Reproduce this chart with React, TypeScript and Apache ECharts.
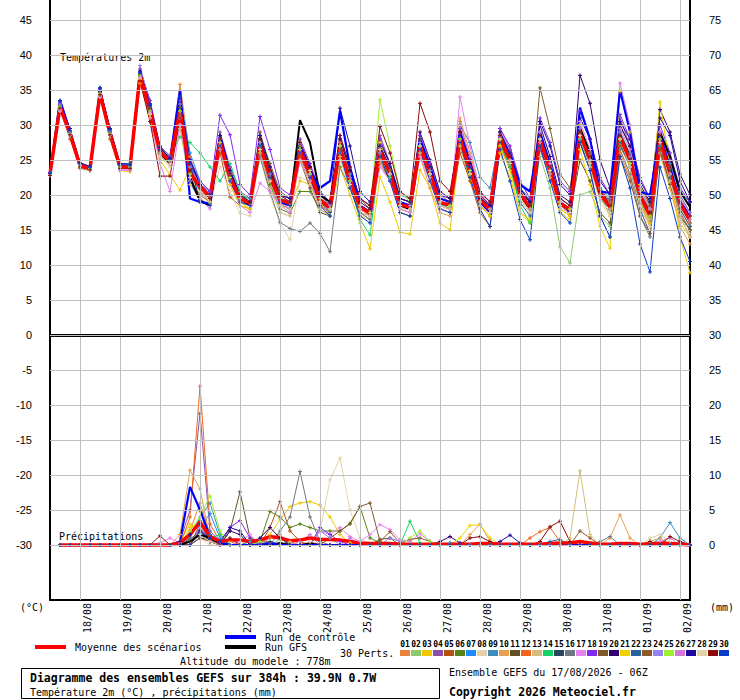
import React, { useEffect, useRef } from "react";
import * as echarts from "echarts";

// ---------- axes / ticks ----------
const dateLabels = ["18/08","19/08","20/08","21/08","22/08","23/08","24/08","25/08","26/08","27/08","28/08","29/08","30/08","31/08","01/09","02/09"];
const dateTicks = [3,7,11,15,19,23,27,31,35,39,43,47,51,55,59,63]; // 00Z steps (6h index from 17/08 06Z)
const leftTicks = [-30,-25,-20,-15,-10,-5,0,5,10,15,20,25,30,35,40,45];
const rightTicks = [0,5,10,15,20,25,30,35,40,45,50,55,60,65,70,75];

const pertNames = ["01","02","03","04","05","06","07","08","09","10","11","12","13","14","15","16","17","18","19","20","21","22","23","24","25","26","27","28","29","30"];
const pertColors = ["#E8853A","#8CC870","#F0C800","#8C50A8","#B45010","#5A8214","#1E8CFF","#E6D2AA","#3C8CBE","#E6A050","#645020","#F06420","#D2BE78","#14D264","#284660","#6E7882","#E682F0","#8228F0","#7D5A28","#32006E","#F0D200","#2864A0","#8C5A28","#9682F0","#A0F032","#D278D2","#1E0AA0","#E1D2AA","#8C0A0A","#0A3CC8"];

// ---------- temperatures 2m (°C), every 6h from 17/08 06Z ----------
const meanT = [23.0, 32.6,28.8,24.2,23.8, 34.5,28.8,24.0,24.0, 37.1,32.1,26.2,24.8, 32.1,23.1,21.2,19.8, 27.6,22.5,19.5,18.8, 27.1,22.6,19.3,18.8, 26.4,23.1,19.3,18.1, 26.7,22.1,18.3,17.4, 26.2,23.1,18.6,18.3, 27.1,23.1,18.9,18.6, 28.1,23.6,19.3,17.9, 28.1,25.0,20.2,18.3, 27.9,23.6,18.8,17.9, 28.8,25.0,20.2,18.3, 28.3,25.0,19.8,17.1, 27.9,23.1,18.8,16.4];
const ctrlT = [22.9, 33.6,29.0,24.3,23.8, 34.9,29.0,24.0,24.0, 37.3,32.5,26.2,25.0, 35.0,19.5,19.0,18.8, 28.5,23.0,19.5,19.0, 27.5,22.5,19.0,18.5, 27.0,23.5,21.0,22.0, 32.0,24.0,18.5,17.5, 26.0,23.5,19.0,18.5, 28.0,24.0,19.5,19.0, 29.0,24.5,19.0,17.5, 28.0,26.0,21.5,20.5, 29.0,24.5,19.0,17.5, 32.5,28.0,20.5,20.3, 35.0,29.0,20.5,20.0, 28.5,24.0,19.0,17.0];
const gfsT = [23.0, 33.0,29.0,24.3,23.8, 34.8,28.8,24.0,24.0, 37.0,32.0,26.0,24.5, 32.5,22.5,19.2,18.5, 28.0,22.5,19.5,18.5, 27.5,23.0,19.5,18.5, 30.7,27.5,20.0,19.0, 27.0,22.0,18.5,17.5, 26.5,23.0,18.5,18.0, 27.0,23.5,19.0,18.5, 28.5,24.0,19.5,18.0, 28.0,25.0,20.0,18.0, 28.5,24.0,19.0,18.0, 29.5,26.0,20.5,18.5, 28.5,25.5,20.0,17.5, 29.0,25.5,20.5,18.3];

const p01T = [23.2, 33.0,29.2,24.6,24.0, 35.0,29.5,24.4,24.2, 37.5,33.0,26.8,25.0, 35.8,25.5,21.0,19.5, 28.5,23.0,19.0,18.5, 26.0,21.5,18.8,18.0, 25.5,22.0,18.5,17.5, 27.5,23.0,18.5,17.0, 24.5,22.0,19.0,18.5, 28.0,24.5,20.0,19.0, 30.5,25.0,19.5,17.5, 26.5,24.0,20.5,18.5, 28.5,24.5,19.0,17.0, 30.0,26.0,21.0,18.5, 26.0,22.5,18.5,16.0, 29.0,24.0,19.5,17.0];
const p02T = [22.8, 32.0,28.5,24.0,23.5, 34.2,28.5,23.8,23.8, 36.8,31.5,25.8,24.5, 31.0,22.5,20.5,19.0, 27.0,22.0,19.5,18.5, 27.5,23.0,19.5,19.0, 26.0,22.5,19.5,18.5, 26.0,21.5,18.0,17.5, 27.0,23.5,19.0,18.0, 26.5,22.5,18.5,18.0, 27.5,23.0,19.0,17.5, 27.0,24.0,19.5,17.5, 25.5,21.0,12.6,10.3, 20.0,20.5,17.0,15.5, 27.0,24.5,19.0,16.5, 28.5,24.0,19.0,16.0];
const p03T = [23.0, 32.5,28.5,24.0,23.5, 34.0,28.5,23.5,23.3, 36.0,31.0,25.0,22.9, 20.7,24.0,20.5,19.5, 26.5,22.0,19.0,18.0, 27.5,23.5,19.5,18.5, 22.0,21.5,19.0,17.0, 24.0,20.0,16.0,12.3, 22.6,19.0,14.7,14.4, 23.6,21.0,16.0,15.0, 27.0,22.0,18.5,17.0, 26.0,22.5,17.5,16.0, 27.0,22.5,17.5,16.5, 30.0,25.5,20.0,17.0, 27.5,24.0,19.0,16.0, 26.0,21.0,16.0,14.0];
const p04T = [23.1, 33.2,29.0,24.5,24.0, 35.2,29.0,24.2,24.2, 38.0,33.5,26.5,25.0, 33.0,24.0,21.5,20.5, 29.0,24.0,20.5,19.5, 28.5,23.5,20.0,19.5, 27.0,23.5,20.0,18.5, 27.0,22.5,18.5,17.5, 28.5,24.5,19.5,19.0, 27.5,23.0,19.0,18.5, 29.0,24.5,20.0,18.0, 29.5,26.5,21.0,19.0, 26.5,22.5,18.5,18.0, 29.0,25.5,20.5,19.0, 31.0,27.0,21.5,18.5, 29.0,25.0,20.0,17.5];
const p05T = [22.8, 32.2,28.0,23.8,23.5, 34.0,28.0,23.5,23.5, 36.5,30.5,25.5,24.5, 30.0,22.0,20.0,19.0, 26.0,19.7,18.5,18.0, 26.5,22.0,19.0,18.5, 25.5,22.5,18.5,17.5, 28.0,23.5,19.5,18.0, 26.0,23.0,18.0,17.5, 26.5,22.0,18.0,17.5, 26.0,22.0,17.5,15.5, 27.0,24.0,19.5,17.5, 28.0,24.0,19.0,18.0, 28.5,24.0,19.5,18.0, 29.0,25.5,20.0,17.0, 26.5,22.0,17.5,15.0];
const p06T = [23.0, 32.8,29.0,24.3,23.8, 34.5,29.2,24.0,24.0, 37.0,32.5,26.5,25.0, 32.5,23.5,21.5,20.0, 27.0,22.5,19.5,19.0, 26.5,21.5,18.0,17.4, 20.5,20.5,18.0,17.0, 25.5,21.0,17.5,16.5, 26.5,23.5,18.5,18.0, 27.0,23.5,19.0,18.0, 28.0,23.5,19.0,18.0, 29.0,25.5,20.5,18.5, 28.5,24.0,19.0,18.0, 27.5,24.5,20.0,18.5, 27.5,24.5,19.0,16.5, 28.0,23.0,18.5,16.5];
const p07T = [23.2, 33.0,29.0,24.5,24.0, 35.0,29.5,24.5,24.5, 37.5,33.0,27.0,25.5, 34.0,26.0,22.0,20.5, 28.0,23.0,20.0,19.0, 27.5,23.0,19.5,19.0, 26.0,22.5,19.0,18.0, 26.5,22.0,18.5,17.0, 25.5,22.5,18.5,18.5, 27.5,23.5,19.5,19.0, 28.5,24.0,20.0,18.5, 28.0,25.5,21.0,19.0, 29.0,24.5,19.5,18.5, 27.5,24.0,19.5,17.5, 28.0,25.5,20.5,17.5, 27.0,22.5,18.5,16.0];
const p08T = [22.9, 32.0,28.5,24.0,23.5, 34.0,28.5,23.5,23.5, 36.5,31.5,25.5,24.0, 30.0,22.0,19.5,18.5, 24.0,20.5,17.4,17.0, 25.5,20.0,16.0,13.6, 22.5,22.0,18.0,17.0, 25.0,21.0,17.5,16.5, 25.5,22.0,18.0,18.0, 26.0,22.0,18.0,18.0, 27.5,23.0,19.0,17.5, 27.5,24.5,19.5,18.0, 27.0,22.5,18.0,17.5, 28.0,24.0,19.0,17.0, 26.5,23.0,18.0,15.5, 26.0,21.5,16.5,14.5];
const p09T = [23.0, 32.8,29.0,24.4,24.0, 34.8,29.0,24.2,24.0, 37.2,32.5,26.5,25.0, 33.5,25.0,21.5,20.0, 28.0,23.5,20.0,19.5, 28.0,23.5,20.0,19.5, 27.0,24.0,20.5,19.0, 27.0,23.0,19.5,18.5, 27.5,24.5,20.0,19.5, 28.0,24.0,20.0,19.5, 30.0,27.5,22.5,21.0, 28.5,25.5,21.0,19.5, 28.0,24.0,19.5,18.5, 29.5,26.0,21.0,19.5, 29.0,26.0,21.0,19.0, 28.5,24.5,20.5,19.0];
const p10T = [23.1, 32.5,28.8,24.2,23.8, 34.3,28.8,24.0,24.0, 36.8,31.8,26.0,24.5, 31.5,22.5,20.5,19.0, 27.5,22.0,19.0,18.5, 27.0,22.5,19.0,18.5, 26.5,23.5,19.0,18.0, 26.0,21.5,17.5,17.0, 27.0,24.0,19.5,19.0, 25.5,21.0,17.5,17.0, 31.0,26.0,20.5,18.0, 28.0,24.5,20.0,18.0, 27.0,22.5,18.0,17.0, 29.0,25.5,20.5,18.5, 27.0,24.0,18.5,15.5, 26.0,21.0,15.5,13.0];
const p11T = [23.0, 32.3,28.5,24.0,23.6, 34.3,28.5,23.8,23.8, 36.5,31.5,25.8,24.5, 31.0,23.0,21.0,19.5, 27.0,22.5,19.5,18.5, 26.0,22.0,18.5,18.0, 25.0,21.0,17.5,17.0, 26.0,21.5,18.0,17.5, 25.0,22.0,17.5,17.0, 26.0,22.5,18.5,18.0, 27.0,22.5,18.5,17.0, 28.5,25.5,20.5,18.5, 27.5,23.0,18.5,17.5, 25.0,22.0,17.5,16.0, 27.0,24.5,19.0,16.5, 27.5,22.5,18.0,15.5];
const p12T = [23.0, 32.6,28.8,24.2,23.8, 34.6,29.0,24.0,24.0, 37.0,32.0,26.0,24.8, 32.0,23.0,21.0,19.8, 27.5,22.0,19.0,18.5, 27.0,22.0,19.0,18.5, 26.0,22.0,18.5,17.5, 27.0,22.0,18.5,17.5, 26.5,23.5,19.0,18.5, 27.0,23.0,19.0,18.5, 28.0,23.5,19.5,18.0, 28.5,25.0,20.0,18.0, 28.0,24.0,19.0,18.0, 28.5,25.0,20.0,18.0, 28.5,25.5,20.5,17.5, 27.5,23.0,18.5,16.0];
const p13T = [22.9, 32.4,28.6,24.1,23.7, 34.4,28.6,23.9,23.9, 36.7,31.5,25.5,24.5, 29.5,21.5,19.5,18.5, 26.5,21.5,18.5,18.0, 26.0,21.0,17.5,17.0, 25.0,21.5,18.0,17.0, 25.5,21.0,17.0,16.5, 25.0,22.5,18.0,17.5, 26.0,22.0,18.0,17.5, 27.0,22.5,18.5,17.0, 27.5,24.5,19.5,17.5, 27.5,23.0,18.5,17.5, 28.0,24.5,19.5,18.0, 27.5,24.5,19.0,16.5, 27.0,22.5,18.0,15.5];
const p14T = [23.0, 32.0,28.5,24.5,24.0, 34.0,29.0,24.5,24.5, 36.5,32.0,27.0,25.5, 28.3,27.5,26.0,24.0, 22.0,24.5,20.5,19.0, 26.5,22.5,19.5,19.0, 27.0,23.0,19.0,18.0, 27.0,21.5,16.5,14.3, 25.5,22.5,18.5,18.0, 26.5,22.5,18.5,18.5, 27.5,23.0,19.0,17.5, 27.5,24.0,18.5,16.0, 28.0,23.5,18.5,17.5, 28.0,24.5,19.5,18.0, 28.5,25.0,20.0,17.5, 27.5,23.5,19.0,16.5];
const p15T = [23.0, 32.7,28.9,24.2,23.8, 34.6,28.9,24.1,24.1, 37.3,32.3,26.3,24.9, 32.5,23.5,21.0,19.5, 27.0,22.5,19.0,18.5, 27.0,22.5,19.0,18.5, 26.5,23.5,19.5,18.0, 26.0,21.5,18.0,17.0, 26.0,23.0,18.5,18.0, 27.5,23.5,19.0,18.5, 28.5,24.0,19.5,18.0, 27.5,24.5,20.0,18.0, 27.0,23.0,18.5,17.5, 29.0,25.0,20.0,18.0, 29.0,25.5,20.0,17.5, 28.0,23.5,19.0,16.5];
const p16T = [23.0, 32.5,28.8,24.3,23.9, 34.5,28.8,24.1,24.1, 37.0,32.0,26.0,24.5, 31.5,23.0,21.0,19.5, 27.0,22.0,19.0,18.5, 25.5,20.5,16.1,15.2, 14.8,16.0,14.5,11.9, 24.0,21.0,17.5,16.5, 26.0,23.0,18.5,18.0, 27.0,23.0,19.0,18.5, 28.0,23.5,19.0,17.5, 28.5,25.5,20.5,18.5, 27.5,23.5,18.5,17.5, 27.5,23.5,17.0,14.0, 26.5,23.0,17.0,14.0, 26.0,22.0,17.0,15.0];
const p17T = [22.9, 32.0,28.5,24.0,23.5, 34.0,28.5,23.5,23.5, 36.5,31.0,24.5,20.5, 30.0,22.0,19.5,18.0, 26.5,21.5,18.5,17.5, 21.7,20.5,18.5,17.5, 25.0,22.0,18.5,17.5, 26.0,21.5,18.0,17.0, 24.0,22.0,18.0,17.5, 25.5,22.0,18.0,17.5, 34.0,27.0,20.5,18.5, 29.5,26.0,21.0,19.0, 29.0,24.5,19.5,18.5, 30.5,26.5,21.0,19.0, 36.0,30.0,21.5,18.0, 29.0,24.0,19.0,17.0];
const p18T = [23.2, 33.2,29.2,24.5,24.0, 35.0,29.5,24.5,24.3, 37.8,33.5,27.0,25.5, 33.5,25.0,22.0,20.5, 31.4,28.6,21.5,20.0, 31.2,26.5,21.0,20.0, 28.0,24.5,20.5,19.0, 28.5,24.0,19.5,18.5, 28.0,24.5,19.5,19.0, 28.5,24.5,20.0,19.5, 29.5,25.0,20.5,19.0, 29.5,27.0,22.0,19.5, 31.0,27.5,22.0,20.5, 32.0,28.0,22.5,20.0, 31.5,28.0,22.5,19.5, 30.0,26.0,21.0,19.0];
const p19T = [23.0, 32.8,28.8,24.3,23.9, 34.8,29.3,24.2,24.1, 37.2,32.5,26.5,25.0, 32.5,24.0,21.5,20.0, 28.5,23.5,20.0,19.0, 29.0,24.0,20.0,19.0, 27.5,24.0,20.0,18.5, 27.0,22.5,18.5,17.5, 27.0,23.5,19.0,18.5, 28.0,24.0,19.5,19.0, 28.5,24.0,19.5,18.0, 29.0,26.0,21.0,19.0, 35.3,29.5,23.0,21.0, 29.5,26.0,21.0,19.0, 30.0,27.0,21.5,18.5, 26.5,21.5,17.0,15.0];
const p20T = [23.1, 33.0,29.0,24.4,24.0, 34.8,29.2,24.2,24.2, 37.5,33.0,26.8,25.2, 33.0,24.5,21.5,20.0, 28.5,23.5,20.0,19.0, 28.0,23.0,19.5,19.0, 27.5,24.0,20.0,19.0, 28.0,23.5,19.0,18.0, 27.5,24.5,19.5,19.0, 29.0,25.0,20.5,19.5, 29.0,24.5,20.0,18.5, 28.5,25.5,20.5,19.0, 30.0,25.5,20.0,19.0, 37.1,33.1,25.0,21.0, 30.0,27.0,21.5,19.0, 32.2,29.0,23.0,20.0];
const p21T = [23.0, 32.5,28.5,24.0,23.6, 34.5,28.5,23.8,23.8, 36.5,31.5,25.5,24.5, 31.0,22.5,20.5,19.0, 27.0,21.5,18.5,18.0, 27.5,22.5,19.0,18.5, 27.5,23.5,19.0,17.5, 27.0,22.0,18.0,17.0, 27.5,23.5,18.5,18.0, 28.0,23.5,19.0,18.5, 27.5,23.0,18.5,17.0, 27.0,23.5,17.5,16.5, 27.5,23.0,18.0,17.0, 26.5,21.5,15.5,12.4, 34.8,29.0,21.5,18.0, 33.3,24.0,14.0,8.9];
const p22T = [23.0, 32.6,28.8,24.2,23.8, 34.5,28.8,24.0,24.0, 37.0,32.0,26.0,24.8, 32.0,22.0,19.0,18.8, 27.0,22.0,19.0,18.5, 27.0,22.5,19.0,18.5, 26.0,22.5,19.0,17.5, 26.5,22.0,18.0,17.0, 26.0,23.0,18.5,18.0, 27.0,23.0,19.0,18.5, 28.0,23.5,19.0,17.5, 28.0,24.5,19.0,17.0, 28.0,23.5,18.5,17.5, 29.0,25.0,20.0,18.0, 27.5,24.0,18.0,14.5, 27.0,22.5,18.0,15.5];
const p23T = [23.0, 32.5,28.7,24.1,23.7, 34.4,28.7,23.9,23.9, 37.0,32.0,26.0,24.5, 31.5,23.0,20.5,19.0, 27.0,22.5,19.5,18.5, 28.5,24.5,20.5,19.5, 27.0,23.5,19.5,18.5, 26.5,22.0,18.0,17.0, 26.5,23.5,19.0,18.5, 27.5,23.5,19.0,18.5, 28.0,23.5,19.0,17.5, 28.0,25.0,20.0,18.0, 28.0,23.5,18.5,17.5, 29.0,25.0,20.0,18.0, 25.5,22.0,17.0,14.5, 26.5,22.0,17.0,14.0];
const p24T = [23.1, 33.0,29.0,24.4,24.0, 35.2,29.2,24.3,24.2, 38.5,33.0,26.5,25.0, 33.0,24.0,21.5,20.0, 28.0,23.0,20.0,19.0, 27.5,23.0,19.5,19.0, 26.5,23.0,19.5,18.5, 27.0,22.5,18.5,17.5, 26.5,23.0,19.0,18.5, 27.5,23.5,19.0,18.5, 28.5,24.0,19.5,18.0, 28.5,25.5,20.5,18.5, 28.5,24.0,19.5,18.5, 29.5,25.5,20.5,18.5, 29.0,25.5,20.5,18.0, 28.5,24.0,19.5,17.5];
const p25T = [23.0, 32.6,28.8,24.2,23.8, 34.5,28.8,24.0,24.0, 37.0,32.0,26.0,24.8, 32.0,23.0,21.0,19.5, 27.5,22.5,19.5,18.5, 27.0,22.5,19.0,18.5, 26.5,23.0,19.5,18.0, 27.0,22.0,18.5,17.5, 33.6,27.0,20.5,19.0, 27.0,23.0,19.0,18.5, 28.0,23.5,19.5,18.0, 28.0,25.0,20.0,18.0, 28.0,23.5,19.0,18.0, 28.5,25.0,20.0,18.0, 28.0,24.5,19.5,17.0, 28.0,23.0,18.5,16.5];
const p26T = [23.0, 32.3,28.5,24.0,23.6, 34.2,28.5,23.7,23.7, 36.8,31.8,25.8,24.5, 31.0,22.5,20.5,19.5, 26.5,22.0,19.0,18.5, 26.5,22.0,19.0,18.0, 26.0,22.5,19.0,18.0, 26.0,21.5,18.0,17.0, 26.0,23.0,18.5,18.0, 26.5,22.5,18.5,18.0, 30.0,25.5,20.0,18.0, 28.5,25.0,20.0,18.0, 27.5,23.0,18.5,17.5, 28.5,25.0,20.0,18.0, 29.5,26.5,21.0,18.0, 27.5,23.0,18.5,16.5];
const p27T = [23.1, 33.5,29.5,24.6,24.1, 35.3,29.5,24.5,24.4, 37.6,33.0,26.8,25.2, 34.0,25.0,21.5,20.0, 28.5,23.5,20.0,19.0, 28.5,24.0,20.0,19.5, 27.5,24.0,20.0,19.0, 32.4,27.0,20.5,19.0, 27.0,24.0,19.5,19.0, 28.0,24.0,19.5,19.0, 28.5,24.0,19.5,18.5, 29.0,26.0,21.0,19.0, 30.5,27.0,21.5,20.0, 31.0,28.0,22.0,20.0, 30.5,28.0,22.0,19.5, 31.0,28.5,22.0,19.0];
const p28T = [22.9, 32.3,28.6,24.0,23.6, 34.2,28.6,23.8,23.8, 36.6,31.6,25.6,24.4, 31.0,22.5,20.5,19.0, 27.0,22.0,19.0,18.5, 26.5,22.0,18.5,18.0, 27.5,23.5,19.0,18.0, 26.0,21.5,18.0,17.0, 26.5,23.0,18.5,18.0, 27.0,23.0,18.5,18.0, 27.5,23.0,19.0,17.5, 28.0,24.5,19.5,17.5, 28.0,23.5,18.5,17.5, 28.5,24.5,19.5,17.5, 28.0,24.0,18.5,15.5, 27.5,22.0,17.0,14.0];
const p29T = [22.8, 32.4,28.6,24.0,23.6, 34.3,28.6,23.8,23.8, 36.3,30.5,22.7,22.7, 31.0,23.5,21.0,19.5, 28.0,23.0,20.0,19.0, 28.0,23.5,20.0,19.0, 27.5,24.0,20.0,19.0, 28.5,24.0,19.5,18.5, 29.8,26.0,20.5,19.5, 33.1,29.0,22.0,20.5, 29.0,25.0,20.5,19.0, 28.5,25.5,20.5,18.5, 28.5,24.0,19.5,18.5, 29.0,25.5,20.5,18.5, 28.5,25.0,20.0,17.5, 28.5,24.0,19.0,17.0];
const p30T = [23.1, 33.4,29.2,24.5,24.0, 35.3,29.3,24.3,24.3, 37.5,32.8,26.5,25.0, 34.0,24.5,19.0,18.5, 27.0,22.0,19.0,18.5, 27.0,22.5,19.0,18.5, 26.0,22.5,18.5,17.0, 26.0,21.0,17.0,16.0, 25.5,22.0,17.5,17.0, 26.5,22.0,18.0,17.5, 27.5,22.5,18.0,15.5, 26.5,22.0,16.5,13.6, 27.0,22.0,17.5,16.0, 27.5,23.5,17.0,14.0, 25.5,21.0,13.0,9.0, 24.0,19.5,14.0,10.5];

// ---------- precipitation (mm / 6h), first value is the run start ----------
const meanP = [null, 0,0,0,0, 0,0,0,0, 0,0,0,0, 0.3,1.5,3.3,1.2, 0.5,0.7,0.7,0.5, 0.7,1.2,1.0,0.6, 0.7,1.0,0.8,0.8, 0.7,0.5,0.3,0.2, 0.2,0.2,0.1,0.1, 0.1,0.1,0.1,0.1, 0.1,0.1,0.2,0.2, 0.1,0.1,0.1,0.1, 0.1,0.2,0.3,0.3, 0.5,0.3,0.1,0.1, 0.2,0.2,0.1,0.1, 0.3,0.2,0.1,0];
const ctrlP = [null, 0,0,0,0, 0,0,0,0, 0,0,0,0, 0.5,8.3,5.0,1.2, 0.3,0,0,0, 0,0.3,0,0, 0,0,0,0, 0,0,0,0, 0,0,0,0, 0,0,0,0, 0,0,0,0, 0,0,0,0, 0,0,0,0, 0,0,0,0, 0,0,0,0, 0,0,0,0];
const gfsP = [null, 0,0,0,0, 0,0,0,0, 0,0,0,0, 0,0.5,1.5,1.0, 0.3,0,0,0, 0,0,0.3,0, 0,0.2,0,0, 0,0,0,0, 0,0,0,0, 0,0,0,0, 0,0,0,0, 0,0,0,0, 0,0,0,0, 0,0,0,0, 0,0,0,0, 0,0,0,0];

const p01P = [null, 0,0,0,0, 0,0,0,0, 0,0,0,0, 0,2.0,6.0,1.5, 0,0.5,0,0, 0,1.0,1.5,0, 0,0.5,0,0, 0,0,0,0, 0,0,0,0, 0,0,0,0.3, 0,0,0,0, 0,0,0,0, 0,0,0,0, 0,0,0,0, 0,0,0,0, 0,0,0,0];
const p02P = [null, 0,0,0,0, 0,0,0,0, 0,0,0,0, 0,0,2.5,1.0, 0,0,0,0.5, 0,0,0.8,0.3, 0,0,0,0, 0,0,0,0, 0,0,0,0, 0,0,0,0, 0,0,0,0, 0,0,0,0, 0,0,0,0, 0,0,0,0, 0,0,0,0, 0,0,0,0];
const p03P = [null, 0,0,0,0, 0,0,0,0, 0,0,0,0, 0.5,3.0,2.0,0.5, 0,0,0,0, 0,1.5,3.6,5.5, 6.0,6.2,5.7,4.0, 1.5,0.3,0,0, 0,0,0,0, 0,0,0,0, 0,0,0,0, 0,0,0,0, 0,0,0,0, 0,0,0,0, 0,0,0,0, 0,0,0,0];
const p04P = [null, 0,0,0,0, 0,0,0,0, 0,0,0,0, 0.5,5.0,18.8,2.0, 0.5,0,0,0, 0.8,0.3,0,0, 0,0,0,0, 0,0,0,0, 0,0,0,0, 0,0,0,0, 0,0,0,0, 0,0,0,0, 0,0,0,0, 0,0,0,0, 0,0,0,0, 0,0,0,0];
const p05P = [null, 0,0,0,0, 0,0,0,0, 0,0,0,0, 0,0,3.0,1.0, 0,0,0,0, 0,2.5,6.2,2.0, 0.5,0,0,0, 0,0,0,0, 0,0,0,0, 0,0,0,0, 0,0,0,0, 0,0,0,0, 0,0,0,0, 0,0,0,0, 0,0,0,0, 0,0,0,0];
const p06P = [null, 0,0,0,0, 0,0,0,0, 0,0,0,0, 0,0,1.5,0.5, 0,0,0,0, 0.5,4.8,4.0,2.5, 3.0,2.5,2.0,2.0, 2.0,3.1,5.5,1.0, 0.3,0,0,0, 0,0,0,0, 0,0,0,0, 0,0,0,0, 0,0,0,0, 0,0,0,0, 0,0,0,0, 0,0,0,0];
const p07P = [null, 0,0,0,0, 0,0,0,0, 0,0,0,0, 0,0,2.5,4.5, 1.0,0,0,0, 0.5,0,0,0, 0,0,0,0, 0,0,0,0, 0,0,0,0, 0,0,0,0.3, 0,0,0,0, 0,0,0,0, 0,0,0,0, 0,0,0,0, 0,0,0,0, 0,0,0,0];
const p08P = [null, 0,0,0,0, 0,0,0,0, 0,0,0,0, 0,0,1.0,0, 0,0,0,0, 0,0,0,0, 0,0.5,2.0,9.3, 12.4,5.0,1.0,0, 0,0,0,0, 0,0,0,0, 0,0,0,0, 0,0,0,0, 0,0,0,0, 0,0,0,0, 0,0,0,0, 0,0,0,0];
const p09P = [null, 0,0,0,0, 0,0,0,0, 0,0,0,0, 0,1.0,4.0,6.0, 1.5,0,0,0.5, 0,0,0,0, 0,0,0,0, 0,0,0,0, 0,0,0,0, 0,0,0,0, 0,0,0,0, 0,0,0,0, 0,0,0,0, 0,0,0,0, 0,0,0,0, 1.0,3.2,1.0,0];
const p10P = [null, 0,0,0,0, 0,0,0,0, 0,0,0,0, 1.5,10.7,8.0,1.0, 0,0,0,0, 0,0,0,0.5, 0,0,0,0, 0,0,0,0, 0,0,0,0, 0,0,0,0, 0,1.5,3.0,0.5, 0,0,0,0, 0,0,0,0, 0,0,0,1.0, 4.3,1.0,0,0.5, 1.0,0,0,0];
const p11P = [null, 0,0,0,0, 0,0,0,0, 0,0,0,0, 0,0.8,2.0,0.5, 0,2.0,7.6,1.0, 0.5,0,0,0, 0,0,0,0, 0,0,0,0, 0.8,1.0,0,0, 0,0,0,0, 0,0,0,0, 0,0,0,0, 0,0,0,0, 0,0,0,0, 0,0,0,0, 0,0,0,0];
const p12P = [null, 0,0,0,0, 0,0,0,0, 0,0,0,0, 0,4.0,22.7,3.0, 0.5,0,0,0, 0,0,0,0, 0,0,0,0, 0,0,0,0, 0,0,0,0, 0,0,0,0, 0,0,0,0, 0,0,0,1.0, 1.9,2.5,0.5,0, 0,0,0,0, 0,0,0,0, 0,0,0,0];
const p13P = [null, 0,0,0,0, 0,0,0,0, 0,0,0,0, 0,0,1.5,0.5, 0,0,0,0, 0,0,0,0, 0,0,0,0, 0,0,0,0, 0,0,0,0, 0,0,0,0, 0,0,0,0, 0,0,0,0, 0,0,0,1.0, 10.6,1.5,0,0, 0,0,0,0, 0,0,0,0];
const p14P = [null, 0,0,0,0, 0,0,0,0, 0,0,0,0, 0,0,2.0,1.0, 1.5,0,0,0, 0,0,0,0, 0,0,0,0, 0,0,0,0, 0,0,0,3.4, 0.3,0,0,0, 0,0,0,0, 0,0,0,0, 0,0,0,0, 0,0,0,0, 0,0,0,0, 0,0,0,0];
const p15P = [null, 0,0,0,0, 0,0,0,0, 0,0,0,0, 0,0,1.0,0.8, 0,0,0,0, 0,0.5,0,0, 0,0,0,0, 0,0,0,0, 0,0,0,0, 0,0,0,0, 0,0,0,0, 0,0,0,0, 0,0,0,0, 0,0,0,0, 0,0,0,0, 0,0,0,0];
const p16P = [null, 0,0,0,0, 0,0,0,0, 0,0,0,0, 0,1.0,3.5,1.0, 0,0,0,0, 0,0,2.0,4.0, 10.5,4.0,0.5,0, 0,0,0,0, 0,0,0,0, 0,0,0,0, 0,0,0,0, 0,0,0,0, 0,0,0,0, 0,0,0.5,1.2, 0,0,0,0, 0,0,0,0];
const p17P = [null, 0,0,0,0, 0,0,0,0, 0,0,0.3,1.0, 0.3,0,1.5,0.5, 0,0,0.5,1.5, 0,0,0,0, 0,0,2.0,1.5, 2.5,1.2,0.5,1.5, 2.9,2.2,0.8,0.5, 1.6,0.5,0,0, 0,0,0,0, 0,0,0,0, 0,0,0,0, 0,0,0,0, 0,0,0,0, 0,0,0,0];
const p18P = [null, 0,0,0,0, 0,0,0,0, 0,0,0,0, 0,0,2.0,0.5, 0,2.5,3.5,1.0, 0,0,0,0, 0,0,2.5,1.5, 0.5,0,0,0, 0,0,0,0, 0,0,0,0, 0,0,0,0, 0,0,0,0, 0,0,0,0, 0,0,0,0, 0,0,0,0, 0,0,0.5,0];
const p19P = [null, 0,0,0,0, 0,0,0,0, 0,0,0,0, 0,0,1.5,0.5, 0,0,0,0, 0,0,0,0, 0,0,0,1.0, 2.0,3.0,5.5,6.0, 0.5,0,0,0, 0,0,0,0, 0,0,0,0, 0,0,0,0, 0,0,0,0, 0,0,0,0, 0,0,0,0, 0,0,0,0];
const p20P = [null, 0,0,0,0, 0,0,0,0, 0,0,0,0, 0.5,1.5,3.0,1.0, 0,2.0,1.5,0, 1.0,2.5,1.0,0, 0,0,0,0, 0,0,0,0, 0,0,0,0, 0,0,0.5,1.2, 0.3,0,0,0, 0,0,0,0, 0,0,0,0, 0,0,0,0, 0,0,0,0, 0,0,0,0];
const p21P = [null, 0,0,0,0, 0,0,0,0, 0,0,0,0, 0,2.5,3.0,1.0, 0.5,0,0,0, 0,0,0,0, 0,0,0,0, 0,0,0,0, 0,0,0,0, 0,0,0,0, 1.0,2.8,2.9,1.0, 0,0,0,0, 0,0,0,0, 0,0,0,0, 0,0,0,0.5, 0,0,0,0];
const p22P = [null, 0,0,0,0, 0,0,0,0, 0,0,0,0, 0,0,2.0,1.5, 0.5,0,0,0, 0,0,0,0, 0,0,0,0, 0,0,0,0, 0,0,0,0, 0,0,0,0, 0,0,0,0, 0,0,0,0, 0,0.5,0.8,0, 0,0,0,0, 0,0,0,0, 0,0,0,0];
const p23P = [null, 0,0,0,0, 0,0,0,0, 0,0,0,0, 0,0,1.0,0.5, 0,0,0,0, 0,0,0,0, 0,0,0,0, 0,0,0,0, 0.5,1.9,0.3,0.8, 1.0,0.5,0,0, 0,0,0,0, 0,0,0,0, 0,0,0,0, 2.0,1.0,0,0, 0,0,0,0, 0,0,0,0];
const p24P = [null, 0,0,0,0, 0,0,0,0, 0,0,0,0, 0,0,2.5,1.0, 0,0,0,0, 0,0,0,0, 0,0,2.0,1.0, 0,0,0,0, 0,1.0,0.5,0, 0,0,0,0, 0,0,0,0, 0,0,0,0, 0,0,0,0, 0,0,0,0, 0,0,0,0, 0,0,0,0];
const p25P = [null, 0,0,0,0, 0,0,0,0, 0,0,0,0, 0,2.0,4.0,7.0, 2.0,0,0,0, 0.5,0,0,0, 0,0,0,0, 0,0,0,0, 0,0,0,1.0, 2.0,0.5,0,0, 0,0,0,0, 0,0,0,0, 0,0,0,0, 0,0,0,0, 0,0,0,0, 0,0,0,0];
const p26P = [null, 0,0,0,0, 0,0,0,0, 0,0,0,0, 0,0,2.0,1.0, 0,0,0,0, 0,0,0,0, 0.5,1.5,0,0, 0,1.0,0,0, 0,0,0,0, 0,0,0,0, 0,0,0,0, 0,0,0,0, 0,0,0,0, 0,0,0,0, 0,0,0,0, 0.5,1.0,0,0];
const p27P = [null, 0,0,0,0, 0,0,0,0, 0,0,0,0, 0,1.5,3.0,1.0, 0.5,2.5,2.0,0, 0,0,0,0, 0,0,0,0, 0,0,0,0, 0,0,0,0, 0,0,0,0, 0,0,0,0, 0.5,1.4,0.3,0, 0,0,0,0, 0,0,0,0, 0,0,0,0, 0,0,0,0];
const p28P = [null, 0,0,0,0, 0,0,0,0, 0,0,0,0, 0,0,1.5,0.5, 0,0,0,0, 0,0,0,0, 0,0,0,0, 0,0,0,0, 0,0,0,0, 0,0,0,0, 0,0,0,0, 0,0,0,0, 0,0,0,0, 0,0,0,0, 0,0,0,1.0, 1.5,0.5,0,0];
const p29P = [null, 0,0,0,0, 0,0,0,0, 0,0,1.3,0, 0,0,2.0,1.0, 0,1.0,0,0, 0,0,0,0, 0,0,0,0, 0,0,0,0, 0,0,0,0, 0,0,0,0, 0,1.0,1.2,0.5, 0,0,0,0, 0.5,2.6,3.4,0.5, 0,0,0,0, 0,0,0,0.5, 0,1.2,0.5,0];
const p30P = [null, 0,0,0,0, 0,0,0,0, 0,0,0,0, 0,0,2.0,1.0, 0.5,0,0,0, 0,0,0,0, 0,0,0,0, 0,0,0,0, 0,0,0,0, 0,0,0,0, 0,0,0,0, 0,0,0,0, 0,0,0,0, 0,0,0,0, 0,0,0,0, 0,0,0,0];

const pertT = [p01T,p02T,p03T,p04T,p05T,p06T,p07T,p08T,p09T,p10T,p11T,p12T,p13T,p14T,p15T,p16T,p17T,p18T,p19T,p20T,p21T,p22T,p23T,p24T,p25T,p26T,p27T,p28T,p29T,p30T];
const pertP = [p01P,p02P,p03P,p04P,p05P,p06P,p07P,p08P,p09P,p10P,p11P,p12P,p13P,p14P,p15P,p16P,p17P,p18P,p19P,p20P,p21P,p22P,p23P,p24P,p25P,p26P,p27P,p28P,p29P,p30P];

// shared scale: 7 px per unit, plot 600 px high, 0 °C at 335 px
const TMIN = -265 / 7;
const TMAX = 335 / 7;
const PMIN = TMIN + 30;
const PMAX = TMAX + 30;
const LABEL_SHIFT = 0.7; // date labels sit just right of the 00Z line

const MONO = "'DejaVu Sans Mono', 'Liberation Mono', monospace";
const SANS = "'Liberation Sans', Arial, sans-serif";
const PLUS = "path://M0,2L4,2M2,0L2,4";

export default function App() {
  const ref = useRef<HTMLDivElement>(null);
  useEffect(() => {
    if (!ref.current) return;
    const chart = echarts.init(ref.current, null, { renderer: "svg" });
    const xy = (arr: (number | null)[]) => arr.map((v, i) => [i, v == null ? "-" : v]);

    const series: any[] = [];
    // grid lines through the axis scales
    series.push({
      type: "line", name: "grid", yAxisIndex: 0, data: [], silent: true,
      markLine: {
        silent: true, symbol: ["none", "none"], label: { show: false }, animation: false,
        lineStyle: { color: "#c0c0c0", width: 1, type: "solid" },
        emphasis: { disabled: true },
        data: [
          ...dateTicks.map((v) => ({ xAxis: v })),
          ...leftTicks.map((v) => ({ yAxis: v })),
        ],
      },
    });
    pertT.forEach((arr, k) => {
      const c = pertColors[k];
      series.push({
        type: "line", name: "T" + pertNames[k], yAxisIndex: 0, data: xy(arr),
        symbol: PLUS, symbolSize: 4, showSymbol: true, silent: true,
        lineStyle: { color: c, width: 1 },
        itemStyle: { color: c, borderColor: c, borderWidth: 1 },
        emphasis: { disabled: true },
      });
    });
    pertP.forEach((arr, k) => {
      const c = pertColors[k];
      series.push({
        type: "line", name: "P" + pertNames[k], yAxisIndex: 1, data: xy(arr),
        symbol: PLUS, symbolSize: 4, showSymbol: true, silent: true,
        lineStyle: { color: c, width: 1 },
        itemStyle: { color: c, borderColor: c, borderWidth: 1 },
        emphasis: { disabled: true },
      });
    });
    const thick = (name: string, arr: (number | null)[], axis: number, color: string, width: number) => ({
      type: "line", name, yAxisIndex: axis, data: xy(arr), showSymbol: false, silent: true,
      lineStyle: { color, width }, itemStyle: { color }, emphasis: { disabled: true },
    });
    series.push(thick("GFS T", gfsT, 0, "#000000", 2));
    series.push(thick("GFS P", gfsP, 1, "#000000", 2));
    series.push(thick("Ctrl T", ctrlT, 0, "#0000FF", 2.2));
    series.push(thick("Ctrl P", ctrlP, 1, "#0000FF", 2.2));
    const meanTS: any = thick("Mean T", meanT, 0, "#FF0000", 3.5);
    meanTS.markLine = {
      silent: true, symbol: ["none", "none"], label: { show: false },
      lineStyle: { color: "#000", width: 1, type: "solid" },
      data: [{ yAxis: 1 / 7 }, { yAxis: -1 / 7 }],
    };
    series.push(meanTS);
    series.push(thick("Mean P", meanP, 1, "#FF0000", 3.5));

    const graphic: any[] = [];
    const txt = (text: string, x: number, y: number, font: string, align = "left") => ({
      type: "text", x, y, silent: true,
      style: { text, font, fill: "#000", align, verticalAlign: "middle" },
    });
    graphic.push(txt("Températures 2m", 60, 57, `10px ${MONO}`));
    graphic.push(txt("Précipitations", 59, 536, `10px ${MONO}`));
    graphic.push(txt("(°C)", 20, 607, `10px ${MONO}`));
    graphic.push(txt("(mm)", 710, 607, `10px ${MONO}`));
    graphic.push({ type: "line", silent: true, shape: { x1: 35, y1: 647, x2: 66, y2: 647 }, style: { stroke: "#FF0000", lineWidth: 4 } });
    graphic.push(txt("Moyenne des scénarios", 75, 647, `10px ${MONO}`));
    graphic.push({ type: "line", silent: true, shape: { x1: 225, y1: 637, x2: 256, y2: 637 }, style: { stroke: "#0000FF", lineWidth: 4 } });
    graphic.push(txt("Run de contrôle", 265, 637, `10px ${MONO}`));
    graphic.push({ type: "line", silent: true, shape: { x1: 225, y1: 647, x2: 256, y2: 647 }, style: { stroke: "#000000", lineWidth: 4 } });
    graphic.push(txt("Run GFS", 265, 647, `10px ${MONO}`));
    graphic.push(txt("30 Perts.", 340, 653, `10px ${MONO}`));
    pertColors.forEach((c, k) => {
      const x = 400 + k * 11;
      graphic.push({ type: "rect", silent: true, shape: { x, y: 650, width: 10, height: 6 }, style: { fill: c } });
      graphic.push(txt(pertNames[k], x + 5, 644, `bold 8px ${MONO}`, "center"));
    });
    graphic.push(txt("Altitude du modele : 778m", 180, 661, `10px ${MONO}`));
    graphic.push({ type: "rect", silent: true, shape: { x: 21.5, y: 668.5, width: 418, height: 30 }, style: { fill: "none", stroke: "#000", lineWidth: 1 } });
    graphic.push(txt("Diagramme des ensembles GEFS sur 384h : 39.9N 0.7W", 30, 678, `bold 11.5px ${MONO}`));
    graphic.push(txt("Température 2m (°C) , précipitations (mm)", 30, 692, `10px ${MONO}`));
    graphic.push(txt("Ensemble GEFS du 17/08/2026 - 06Z", 449, 672, `10px ${MONO}`));
    graphic.push(txt("Copyright 2026 Meteociel.fr", 449, 692, `bold 11.5px ${MONO}`));

    chart.setOption({
      animation: false,
      backgroundColor: "#ffffff",
      grid: { left: 50, right: 50, top: 0, bottom: 100, containLabel: false },
      tooltip: { show: false },
      xAxis: [
        {
          type: "value", min: 0, max: 64,
          axisLine: { show: true, onZero: false, lineStyle: { color: "#000", width: 2 } },
          axisTick: { show: false },
          axisLabel: { show: false },
          splitLine: { show: false },
        },
        {
          // label-only axis, offset so each date sits just right of its 00Z line
          type: "value", position: "bottom", min: -LABEL_SHIFT, max: 64 - LABEL_SHIFT,
          axisLine: { show: false, onZero: false },
          axisTick: { show: false, customValues: dateTicks },
          axisLabel: {
            customValues: dateTicks, rotate: 90, margin: 3,
            formatter: (v: number) => dateLabels[dateTicks.indexOf(Math.round(v))] ?? "",
            fontFamily: MONO, fontSize: 10, color: "#000",
          },
          splitLine: { show: false },
        },
      ],
      yAxis: [
        {
          type: "value", position: "left", min: TMIN, max: TMAX,
          axisLine: { show: true, onZero: false, lineStyle: { color: "#000", width: 2 } },
          axisTick: { show: false, customValues: leftTicks },
          axisLabel: { customValues: leftTicks, margin: 18, fontFamily: SANS, fontSize: 11, color: "#000" },
          splitLine: { show: false },
        },
        {
          type: "value", position: "right", min: PMIN, max: PMAX,
          axisLine: { show: true, onZero: false, lineStyle: { color: "#000", width: 2 } },
          axisTick: { show: false, customValues: rightTicks },
          axisLabel: { customValues: rightTicks, margin: 19, fontFamily: SANS, fontSize: 11, color: "#000" },
          splitLine: { show: false },
        },
      ],
      series,
      graphic,
    });
    return () => chart.dispose();
  }, []);
  return <div ref={ref} style={{ position: "absolute", left: 0, top: 0, width: 740, height: 700, background: "#fff" }} />;
}
